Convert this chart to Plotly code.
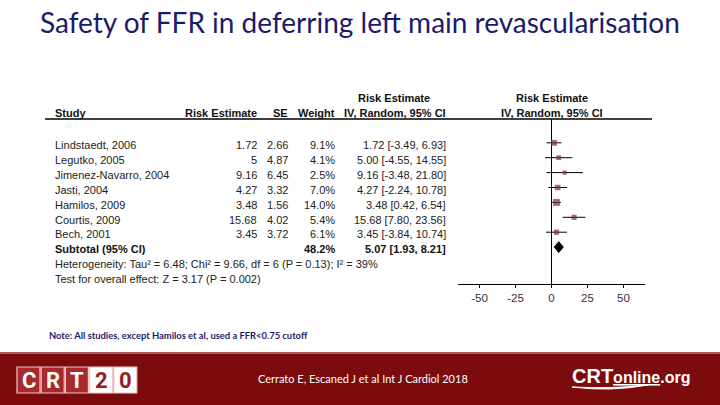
import plotly.graph_objects as go

# ---------------- data ----------------
studies = ["Lindstaedt, 2006", "Legutko, 2005", "Jimenez-Navarro, 2004", "Jasti, 2004",
           "Hamilos, 2009", "Courtis, 2009", "Bech, 2001"]
risk_est = ["1.72", "5", "9.16", "4.27", "3.48", "15.68", "3.45"]
se = ["2.66", "4.87", "6.45", "3.32", "1.56", "4.02", "3.72"]
weight = [9.1, 4.1, 2.5, 7.0, 14.0, 5.4, 6.1]
est = [1.72, 5.00, 9.16, 4.27, 3.48, 15.68, 3.45]
ci_low = [-3.49, -4.55, -3.48, -2.24, 0.42, 7.80, -3.84]
ci_high = [6.93, 14.55, 21.80, 10.78, 6.54, 23.56, 10.74]
sub_weight = 48.2
sub_est, sub_low, sub_high = 5.07, 1.93, 8.21
heterogeneity = "Heterogeneity: Tau² = 6.48; Chi² = 9.66, df = 6 (P = 0.13); I² = 39%"
overall = "Test for overall effect: Z = 3.17 (P = 0.002)"
x_ticks = [-50, -25, 0, 25, 50]
x_tick_labels = ["-50", "-25", "0", "25", "50"]

title = "Safety of FFR in deferring left main revascularisation"
note = "Note: All studies, except Hamilos et al, used a FFR<0.75 cutoff"
citation = "Cerrato E, Escaned J et al Int J Cardiol 2018"

# ---------------- helpers ----------------
W, H = 720, 405
def px(x): return x / W
def py(y): return 1 - y / H

rows = list(range(1, len(studies) + 1))
sub_row = len(studies) + 1

top_pix, bot_pix, r1_pix, step = 119, 284, 142.8, 14.9
def row_of(p): return (p - r1_pix) / step + 1
txt_off = 2.2 / step          # table text sits slightly below the marks
het_row = row_of(264)
test_row = row_of(278.5)

TXT = "Liberation Sans, Arial, sans-serif"
fig = go.Figure()

# CI lines
lx, ly = [], []
for lo, hi, r in zip(ci_low, ci_high, rows):
    lx += [lo, hi, None]
    ly += [r, r, None]
fig.add_trace(go.Scatter(x=lx, y=ly, mode="lines", line=dict(color="black", width=1),
                         hoverinfo="skip", showlegend=False))
# study squares
fig.add_trace(go.Scatter(x=est, y=rows, mode="markers",
                         marker=dict(symbol="square", color="#7a2f33",
                                     size=[2.2 + 1.25 * w ** 0.5 for w in weight], line=dict(width=0)),
                         showlegend=False))
# diamond
dh = 0.36
fig.add_trace(go.Scatter(x=[sub_low, sub_est, sub_high, sub_est, sub_low],
                         y=[sub_row, sub_row - dh, sub_row, sub_row + dh, sub_row],
                         mode="lines", fill="toself", fillcolor="black",
                         line=dict(color="black", width=1), showlegend=False))

fig.update_layout(
    width=W, height=H, margin=dict(l=0, r=0, t=0, b=0),
    paper_bgcolor="white", plot_bgcolor="white",
    xaxis=dict(domain=[px(458), px(645)], range=[-65, 65], tickvals=x_ticks, ticktext=x_tick_labels,
               showgrid=False, zeroline=True, zerolinecolor="black", zerolinewidth=1,
               showline=True, linecolor="black", linewidth=1, ticks="outside", ticklen=3,
               tickcolor="black", tickfont=dict(family=TXT, size=11.5, color="#333")),
    yaxis=dict(domain=[py(bot_pix), py(top_pix)], range=[row_of(bot_pix), row_of(top_pix)],
               showgrid=False, zeroline=False, showline=False, showticklabels=False, ticks=""),
    showlegend=False,
)

ann = []
def A(x, y, text, anchor="left", size=11, bold=False, color="#222", yref="y", family=TXT):
    t = f"<b>{text}</b>" if bold else text
    ann.append(dict(x=x, y=y, xref="paper", yref=yref, text=t, showarrow=False,
                    xanchor=anchor, yanchor="middle",
                    font=dict(family=family, size=size, color=color)))

# headers
HC = "#111"
A(px(53), py(113), "Study", bold=True, yref="paper", color=HC)
A(px(259), py(113), "Risk Estimate", "right", bold=True, yref="paper", color=HC)
A(px(290), py(113), "SE", "right", bold=True, yref="paper", color=HC)
A(px(337), py(113), "Weight", "right", bold=True, yref="paper", color=HC)
A(px(394), py(98), "Risk Estimate", "center", bold=True, yref="paper", color=HC)
A(px(448), py(113), "IV, Random, 95% CI", "right", bold=True, yref="paper", color=HC)
A(px(552), py(98), "Risk Estimate", "center", bold=True, yref="paper", color=HC)
A(px(552), py(113), "IV, Random, 95% CI", "center", bold=True, yref="paper", color=HC)

for i, r in enumerate(rows):
    yr = r + txt_off
    A(px(53), yr, studies[i])
    A(px(259), yr, risk_est[i], "right")
    A(px(290), yr, se[i], "right")
    A(px(337), yr, f"{weight[i]:.1f}%", "right")
    A(px(448), yr, f"{est[i]:.2f} [{ci_low[i]:.2f}, {ci_high[i]:.2f}]", "right")
A(px(53), sub_row + txt_off, "Subtotal (95% CI)", bold=True, color=HC)
A(px(337), sub_row + txt_off, f"{sub_weight:.1f}%", "right", bold=True, color=HC)
A(px(448), sub_row + txt_off, f"{sub_est:.2f} [{sub_low:.2f}, {sub_high:.2f}]", "right", bold=True, color=HC)
A(px(53), het_row, heterogeneity)
A(px(53), test_row, overall)

# title, note, citation
A(px(360), py(22), title, "center", size=28, color="#1b1b6b", yref="paper", family="Lato, Carlito, sans-serif")
A(px(47), py(335), f"<b>{note}</b>", "left", size=9.4, color="#1b1b6b", yref="paper",
  family="Liberation Sans Narrow, Arial Narrow, Lato, sans-serif")
A(px(363), py(378), citation, "center", size=11, color="white", yref="paper", family="Lato, sans-serif")

shapes = []
# header rule
shapes.append(dict(type="line", xref="paper", yref="paper", x0=px(45), x1=px(652),
                   y0=py(119), y1=py(119), line=dict(color="black", width=1.5)))
# footer band
shapes.append(dict(type="rect", xref="paper", yref="paper", x0=0, x1=1, y0=0, y1=py(353),
                   fillcolor="#7c0b0d", line=dict(width=0), layer="below"))
shapes.append(dict(type="rect", xref="paper", yref="paper", x0=0, x1=1, y0=py(354), y1=py(352),
                   fillcolor="#a85a5a", line=dict(width=0), layer="below"))

# CRT20 logo
letters = ["C", "R", "T", "2", "0"]
for k, ch in enumerate(letters):
    x0 = 17 + k * 24.2
    x1 = x0 + 23
    white = k >= 3
    shapes.append(dict(type="rect", xref="paper", yref="paper", x0=px(x0), x1=px(x1),
                       y0=py(393), y1=py(367),
                       fillcolor="white" if white else "#a9282c",
                       line=dict(color="#f0c8c8", width=1.2)))
    A(px((x0 + x1) / 2), py(380.5), f"<b>{ch}</b>", "center", size=22,
      color="#9c1a1f" if white else "white", yref="paper", family="Roboto, sans-serif")

# CRTonline.org logo
A(px(631), py(376), "<b><span style='font-size:20px'>CRT</span><u>online</u>.org</b>", "center",
  size=16, color="white", yref="paper", family="Liberation Sans, Arial, sans-serif")
shapes.append(dict(type="path", xref="paper", yref="paper",
                   path=f"M {px(572)},{py(387)} Q {px(610)},{py(392)} {px(648)},{py(385)} "
                        f"Q {px(612)},{py(389)} {px(572)},{py(387)} Z",
                   fillcolor="white", line=dict(color="white", width=1)))

fig.update_layout(annotations=ann, shapes=shapes)
fig.write_html("out.html", config={"displayModeBar": False},
               post_script="document.body.style.margin='0';document.body.style.overflow='hidden';")
